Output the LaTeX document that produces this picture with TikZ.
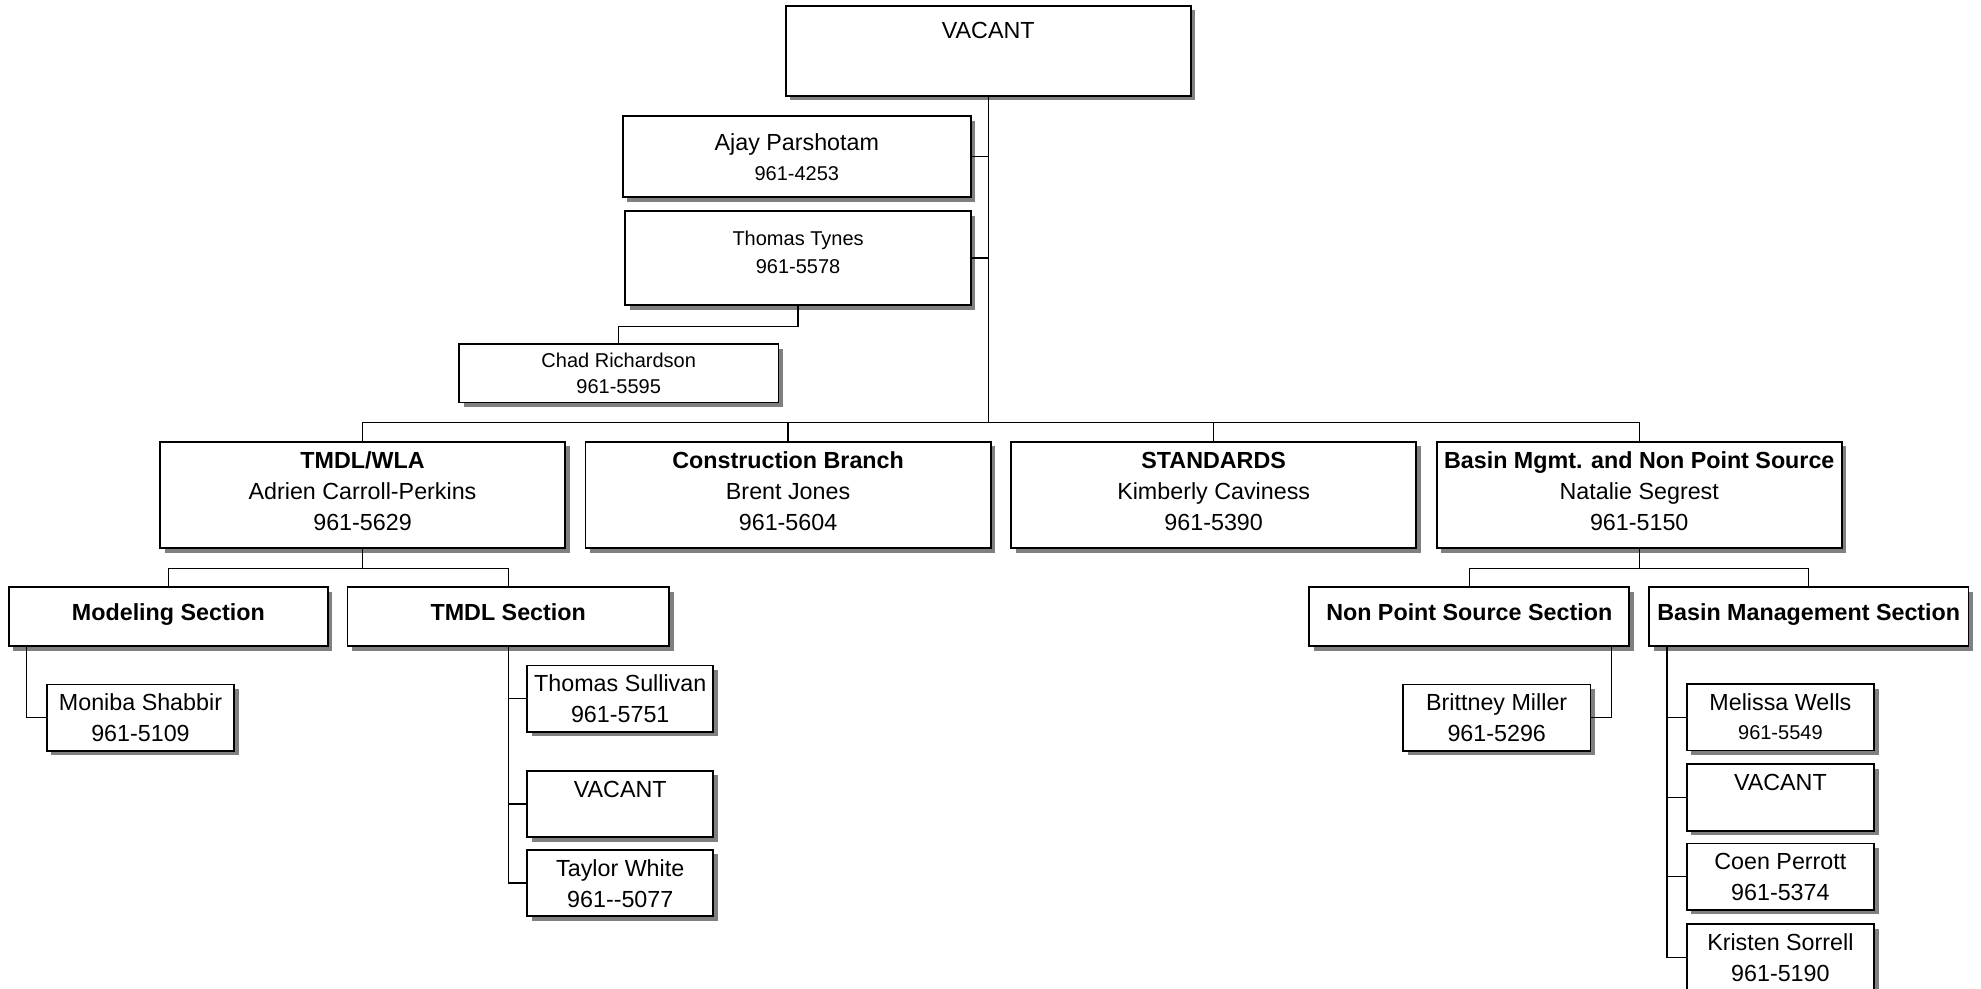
\documentclass[tikz,border=0pt]{standalone}
\usepackage{fontspec}
\setmainfont{Liberation Sans}
\usetikzlibrary{positioning,shadows}

\begin{document}
\begin{tikzpicture}[
    x=1pt, y=-1pt,
    box/.style={
        rectangle,
        draw=black,
        fill=white,
        line width=1.4pt,
        inner sep=0pt,
        align=center,
        font=\fontsize{18.4}{24.5}\selectfont,
        drop shadow={shadow xshift=3.6pt, shadow yshift=-3.6pt, fill=black!50, opacity=1}
    },
    smalltext/.style={font=\fontsize{15.8}{22}\selectfont},
    % Boxes of the second row (three lines)
    branch/.style={box, minimum width=320pt, text height=70pt, text depth=14.2pt},
    % Section boxes below the branches
    section/.style={box, text height=26pt, text depth=20.4pt, font=\fontsize{18.4}{24.5}\selectfont\bfseries},
    % Staff boxes at the bottom (two lines, or one for a vacancy)
    staff/.style={box, minimum width=148pt, text height=45.3pt, text depth=7.1pt},
    vacancy/.style={staff, text height=20.8pt, text depth=31.6pt},
    link/.style={line width=1.1pt},
    % Positioning library is used for the second row
    node distance=14.8pt
]
    \useasboundingbox (0,0) rectangle (1565,781.3);

    % Top box
    \node[box, minimum width=320pt, text height=26.1pt, text depth=44.9pt] (vacant) at (780.7,40.1) {VACANT};

    % Staff attached to the top box
    \node[box, minimum width=275pt, text height=50.6pt, text depth=13.4pt] (ajay) at (629.5,123.6)
        {Ajay Parshotam\\[-1.5pt]{\fontsize{15.8}{22}\selectfont 961-4253}};
    \node[box, smalltext, minimum width=273pt, text height=49.3pt, text depth=25pt] (tynes) at (630.5,203.9)
        {Thomas Tynes\\961-5578};
    \node[box, smalltext, minimum width=252.3pt, text height=39.2pt, text depth=7pt] (chad) at (488.8,294.9)
        {Chad Richardson\\[-1pt]961-5595};

    % Second row of branches
    \node[branch] (tmdlwla) at (286.4,391.1) {\textbf{TMDL/WLA}\\Adrien Carroll-Perkins\\961-5629};
    \node[branch, right=of tmdlwla] (construction) {\textbf{Construction Branch}\\Brent Jones\\961-5604};
    \node[branch, right=of construction] (standards) {\textbf{STANDARDS}\\Kimberly Caviness\\961-5390};
    \node[branch, right=of standards] (basin) {\textbf{Basin Mgmt. and Non Point Source}\\Natalie Segrest\\961-5150};

    % Sections
    \node[section, minimum width=252pt] (modeling) at (133,487.2) {Modeling Section};
    \node[section, minimum width=254pt] (tmdlsec) at (401.5,487.2) {TMDL Section};
    \node[section, minimum width=252.6pt] (nps) at (1160.7,487.2) {Non Point Source Section};
    \node[section, minimum width=252.3pt] (basinsec) at (1428.9,487.2) {Basin Management Section};

    % Staff of the sections
    \node[staff] (shabbir) at (111,566.9) {Moniba Shabbir\\961-5109};
    \node[staff, minimum width=147pt] (sullivan) at (490,552) {Thomas Sullivan\\961-5751};
    \node[vacancy, minimum width=147pt] (tmdlvacant) at (490,635.1) {VACANT};
    \node[staff, minimum width=147pt] (white) at (490,697.6) {Taylor White\\961-{}-5077};
    \node[staff] (miller) at (1182.4,566.9) {Brittney Miller\\961-5296};
    \node[staff, text height=43.8pt, text depth=8.6pt] (wells) at (1406.5,566.7)
        {Melissa Wells\\[-1.5pt]{\fontsize{15.8}{22}\selectfont 961-5549}};
    \node[vacancy] (basinvacant) at (1406.5,630) {VACANT};
    \node[staff] (perrott) at (1406.5,692.6) {Coen Perrott\\961-5374};
    \node[staff] (sorrell) at (1406.5,756.3) {Kristen Sorrell\\961-5190};

    % Lines from the top box
    \coordinate (bus) at (780.7,333.6);
    \draw[link] (vacant.south) -- (bus);
    \draw[link] (ajay.east) -- (ajay.east -| vacant.south);
    \draw[link] (tynes.east) -- (tynes.east -| vacant.south);
    \draw[link] (tynes.south) -- ++(0,16.2) -| (chad.north);
    \foreach \b in {tmdlwla,construction,standards,basin}
        \draw[link] (bus) -| (\b.north);

    % Lines to the sections
    \draw[link] (tmdlwla.south) -- ++(0,15.3) coordinate (tmdlbus);
    \draw[link] (tmdlbus) -| (modeling.north);
    \draw[link] (tmdlbus) -| (tmdlsec.north);
    \draw[link] (basin.south) -- ++(0,15.3) coordinate (basinbus);
    \draw[link] (basinbus) -| (nps.north);
    \draw[link] (basinbus) -| (basinsec.north);

    % Lines to the staff
    \draw[link] ([xshift=14.8pt]modeling.south west) |- (shabbir.west);
    \foreach \s in {sullivan,tmdlvacant,white}
        \draw[link] (tmdlsec.south) |- (\s.west);
    \draw[link] ([xshift=-14.5pt]nps.south east) |- (miller.east);
    \foreach \s in {wells,basinvacant,perrott,sorrell}
        \draw[link] ([xshift=14.8pt]basinsec.south west) |- (\s.west);

\end{tikzpicture}
\end{document}
